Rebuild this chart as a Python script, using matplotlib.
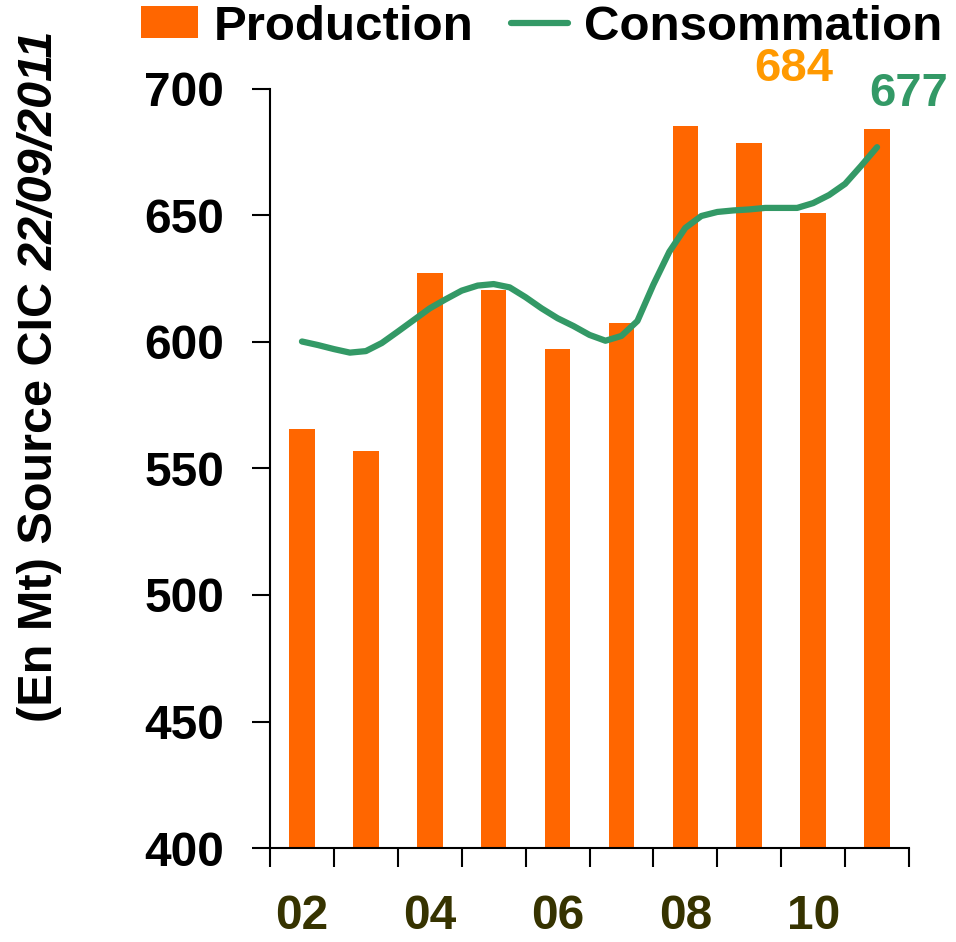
import matplotlib
matplotlib.use("Agg")
import matplotlib.pyplot as plt
import numpy as np

plt.rcParams['font.family'] = ['Liberation Sans', 'DejaVu Sans']
plt.rcParams['font.weight'] = 'bold'

# production (bars), one value per year
years = [2002, 2003, 2004, 2005, 2006, 2007, 2008, 2009, 2010, 2011]
production = [565.5, 557, 627.4, 620.6, 597.2, 607.6, 685.4, 678.7, 651, 684]

# consommation
cons_x = [2002.0, 2002.25, 2002.5, 2002.75, 2003.0, 2003.25, 2003.5, 2003.75,
          2004.0, 2004.25, 2004.5, 2004.75, 2005.0, 2005.25, 2005.5, 2005.75,
          2006.0, 2006.25, 2006.5, 2006.75, 2007.0, 2007.25, 2007.5, 2007.75,
          2008.0, 2008.25, 2008.5, 2008.75, 2009.0, 2009.25, 2009.5, 2009.75,
          2010.0, 2010.25, 2010.5, 2010.75, 2011.0]
cons_y = [600.2, 598.8, 597.2, 595.8, 596.4, 599.6, 604.1, 608.7,
          613.3, 616.9, 620.3, 622.3, 622.9, 621.6, 617.7, 613.3,
          609.4, 606.3, 602.8, 600.5, 602.4, 608.3, 622.7, 635.7,
          645.1, 649.8, 651.4, 652.0, 652.4, 653.0, 653.0, 653.0,
          654.9, 658.1, 662.5, 669.6, 677]

xlabels = ['02', '04', '06', '08', '10']
xlabel_pos = [2002, 2004, 2006, 2008, 2010]

orange = '#FF6600'
green = '#339966'

fig = plt.figure(figsize=(9.56, 9.42), dpi=100)
ax = fig.add_axes([270 / 956, 94 / 942, 639 / 956, 759 / 942])

bars = ax.bar(years, production, width=0.4, color=orange, label='Production', zorder=2)
line, = ax.plot(cons_x, cons_y, color=green, lw=4.5, solid_capstyle='round',
                solid_joinstyle='round', label='Consommation', zorder=3)

ax.set_xlim(2001.5, 2011.5)
ax.set_ylim(400, 700)
ax.set_yticks([400, 450, 500, 550, 600, 650, 700])
ax.tick_params(axis='y', direction='out', length=13, width=1.5, pad=20, labelsize=34.5)
ax.set_xticks(np.arange(2001.5, 2012, 1.0))
ax.set_xticklabels([])
ax.tick_params(axis='x', which='major', direction='out', length=14, width=1.5)
ax.set_xticks(xlabel_pos, minor=True)
ax.set_xticklabels(xlabels, minor=True)
ax.tick_params(axis='x', which='minor', length=0, pad=33, labelsize=34.5, labelcolor='#363300')
for lab in ax.get_yticklabels() + ax.get_xticklabels(minor=True):
    lab.set_fontweight('bold')

for s in ['top', 'right']:
    ax.spines[s].set_visible(False)
ax.spines['left'].set_linewidth(1.5)
ax.spines['bottom'].set_linewidth(1.5)

# end values
ax.text(2009.7, 708, '684', color='#FF9900', fontsize=34, fontweight='bold',
        ha='center', va='center', clip_on=False)
ax.text(2011.5, 698, '677', color=green, fontsize=34, fontweight='bold',
        ha='center', va='center', clip_on=False)

fig.legend(handles=[bars, line], loc='center left', bbox_to_anchor=(141 / 956, 1 - 27 / 942),
           ncol=2, frameon=False, prop={'weight': 'bold', 'size': 35.5},
           handlelength=1.15, handleheight=0.62, handletextpad=0.33, columnspacing=0.76,
           borderpad=0, borderaxespad=0)

# y label: upright part + italic date
t1 = fig.text(40 / 956, 1 - 722 / 942, '(En Mt) Source CIC', rotation=90,
              ha='center', va='bottom', fontsize=35, fontweight='bold')
fig.canvas.draw()
bb = t1.get_window_extent()
fig.text(40 / 956, (bb.y1 + 12) / 942, '22/09/2011', rotation=90, ha='center',
         va='bottom', fontsize=35, fontweight='bold', fontstyle='italic')

fig.savefig('out.png', dpi=100)
